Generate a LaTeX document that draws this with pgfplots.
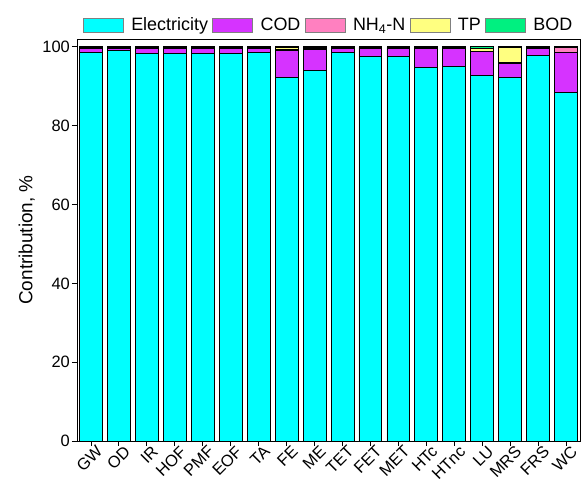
\documentclass[border=0pt]{standalone}
\usepackage{fontspec}
\setmainfont{Liberation Sans}
\usepackage{pgfplots}
\usepackage{pgfplotstable}
\pgfplotsset{compat=1.18}
\definecolor{cElec}{RGB}{0,255,255}
\definecolor{cCOD}{RGB}{214,51,255}
\definecolor{cNH}{RGB}{255,128,192}
\definecolor{cTP}{RGB}{255,255,128}
\definecolor{cBOD}{RGB}{0,240,128}
\pgfplotstableread{
x cat Elec COD NH TP BOD
0 GW 98.5 1.0 0.2 0.1 0.2
1 OD 99.2 0.5 0.1 0.1 0.1
2 IR 98.3 1.4 0.1 0.1 0.1
3 HOF 98.4 1.3 0.1 0.1 0.1
4 PMF 98.3 1.4 0.1 0.1 0.1
5 EOF 98.3 1.4 0.1 0.1 0.1
6 TA 98.7 1.0 0.1 0.1 0.1
7 FE 92.3 6.9 0.2 0.4 0.2
8 ME 94.0 5.3 0.2 0.3 0.2
9 TET 98.5 1.2 0.1 0.1 0.1
10 FET 97.5 2.2 0.1 0.1 0.1
11 MET 97.5 2.2 0.1 0.1 0.1
12 HTc 94.8 4.9 0.1 0.1 0.1
13 HTnc 95.1 4.6 0.1 0.1 0.1
14 LU 92.8 6.0 0.1 0.8 0.3
15 MRS 92.3 3.6 0.1 3.8 0.2
16 FRS 97.9 1.8 0.1 0.1 0.1
17 WC 88.5 10.2 1.1 0.1 0.1
}\data
\newcommand\ft{\fontsize{16.5}{19}\selectfont}
\newcommand\fl{\fontsize{18}{21}\selectfont}
\newcommand\fy{\fontsize{19}{22}\selectfont}
\begin{document}
\begin{tikzpicture}[font=\ft]
\begin{axis}[
  scale only axis,
  width=503bp, height=402bp,
  ybar stacked,
  bar width=0.82,
  xmin=-0.5, xmax=17.5,
  ymin=0, ymax=102,
  xtick=data,
  xticklabels from table={\data}{cat},
  xticklabel style={rotate=45, anchor=north east, inner sep=1pt, xshift=5bp, yshift=-1bp, font=\ft},
  yticklabel style={font=\ft, inner sep=2bp},
  ytick={0,20,40,60,80,100},
  tick align=outside,
  xtick pos=bottom, ytick pos=left,
  major tick length=5bp,
  tick style={black, line width=0.9pt},
  axis line style={line width=0.9pt},
  /pgf/number format/assume math mode=true,
  ylabel={Contribution, \%},
  ylabel style={font=\fy, yshift=2bp},
  every axis plot/.append style={draw=black, line width=0.8pt},
  area legend,
  legend columns=5,
  legend style={at={(0.5,1.0)}, anchor=south, draw=none, fill=none,
    /tikz/every odd column/.append style={column sep=6bp},
    /tikz/every even column/.append style={column sep=3bp}, yshift=3bp, font=\fl,
    nodes={inner sep=1.5bp}},
  legend image code/.code={\draw[#1, draw=gray, line width=0.6pt] (0bp,-7bp) rectangle (40bp,7bp);},
]
\addplot[fill=cElec] table[x=x, y=Elec] {\data};
\addplot[fill=cCOD] table[x=x, y=COD] {\data};
\addplot[fill=cNH] table[x=x, y=NH] {\data};
\addplot[fill=cTP] table[x=x, y=TP] {\data};
\addplot[fill=cBOD] table[x=x, y=BOD] {\data};
\legend{Electricity, COD, NH\textsubscript{4}-N, TP, BOD}
\end{axis}
\path ([xshift=-77bp,yshift=-46bp]current axis.south west) rectangle ([xshift=2bp,yshift=39bp]current axis.north east);
\end{tikzpicture}
\end{document}
